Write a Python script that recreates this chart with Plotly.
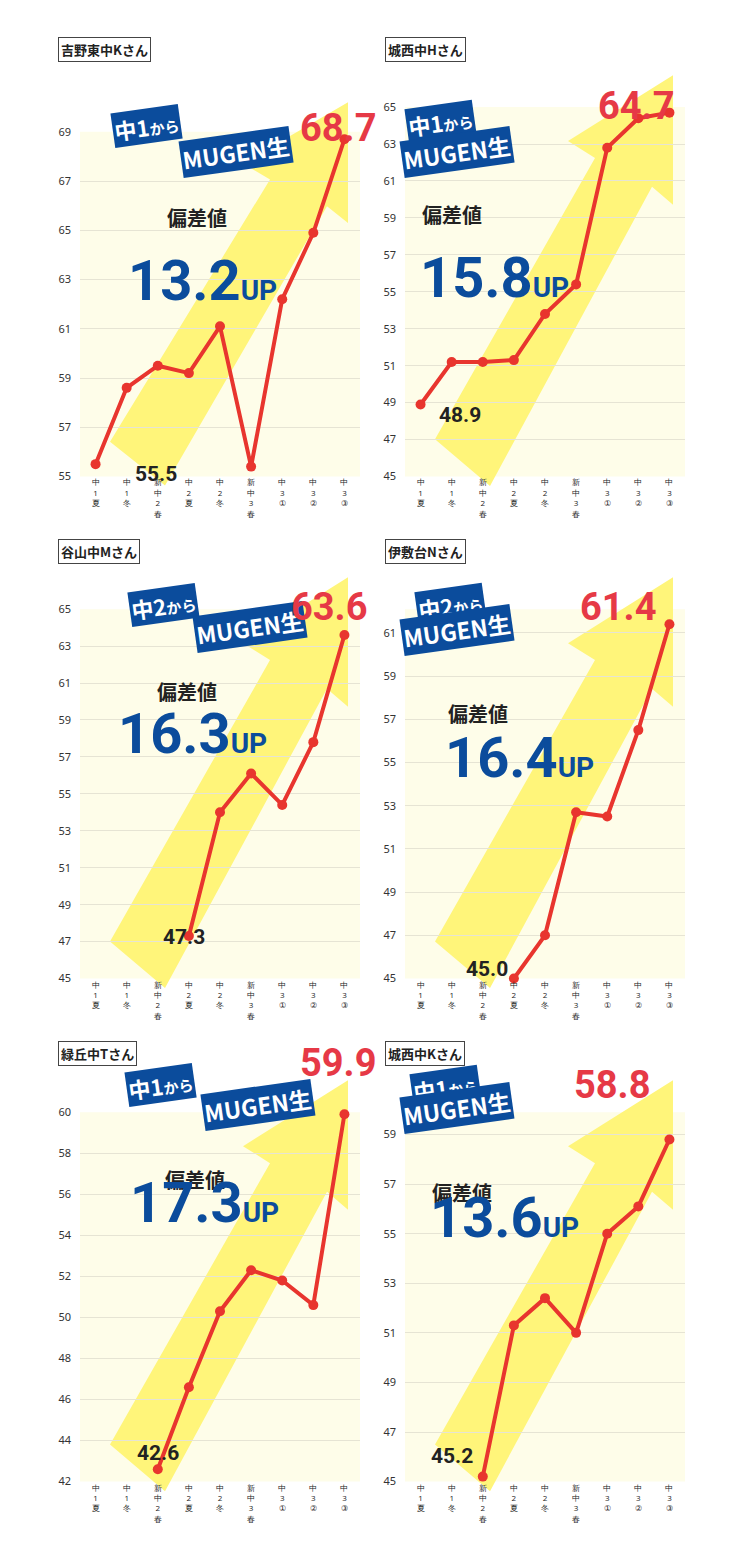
import plotly.graph_objects as go

W, H = 734, 1539
cats = ["中<br>1<br>夏", "中<br>1<br>冬", "新<br>中<br>2<br>春", "中<br>2<br>夏", "中<br>2<br>冬",
        "新<br>中<br>3<br>春", "中<br>3<br>①", "中<br>3<br>②", "中<br>3<br>③"]

names = ["吉野東中Kさん", "城西中Hさん", "谷山中Mさん", "伊敷台Nさん", "緑丘中Tさん", "城西中Kさん"]
starts = [0, 0, 3, 3, 2, 2]
vals1 = [55.5, 58.6, 59.5, 59.2, 61.1, 55.4, 62.2, 64.9, 68.7]
vals2 = [48.9, 51.2, 51.2, 51.3, 53.8, 55.4, 62.8, 64.4, 64.7]
vals3 = [47.3, 54.0, 56.1, 54.4, 57.8, 63.6]
vals4 = [45.0, 47.0, 52.7, 52.5, 56.5, 61.4]
vals5 = [42.6, 46.6, 50.3, 52.3, 51.8, 50.6, 59.9]
vals6 = [45.2, 51.3, 52.4, 51.0, 55.0, 56.1, 58.8]
series = [vals1, vals2, vals3, vals4, vals5, vals6]
ups = ["13.2", "15.8", "16.3", "16.4", "17.3", "13.6"]
badges = ["中1から", "中1から", "中2から", "中2から", "中1から", "中1から"]
yranges = [(55, 69), (45, 65), (45, 65), (45, 62.1), (42, 60), (45, 59.9)]
yticks = [list(range(55, 70, 2)), list(range(45, 66, 2)), list(range(45, 66, 2)),
          list(range(45, 62, 2)), list(range(42, 61, 2)), list(range(45, 60, 2))]

boxes = [(80, 360, 125, 473), (405, 685, 100, 473),
         (80, 360, 607, 980), (405, 685, 607, 980),
         (80, 360, 1115, 1488), (405, 685, 1115, 1488)]
badge1 = [(110, 96), (440, 92), (127, 603), (450, 603), (124, 1110), (445, 1112)]
badge2 = [(178, 118), (515, 118), (192, 625), (515, 628), (200, 1135), (515, 1138)]
hensa = [(165, 195), (452, 192), (155, 690), (478, 712), (163, 1200), (462, 1213)]
upxy = [(126, 240), (418, 237), (116, 733), (443, 757), (128, 1242), (428, 1257)]
redxy = [(338, 97), (676, 75), (329, 605), (658, 605), (338, 1090), (652, 1112)]
startxy = [(133, 456), (460, 397), (161, 938), (487, 970), (135, 1473), (452, 1476)]
titlexy = [(58, 42), (385, 42), (58, 549), (385, 549), (58, 1056), (385, 1056)]

OFF = 8
def px(x): return (x - OFF) / W
def py(y): return 1 - (y - OFF) / H

fig = go.Figure()
shapes, annos = [], []
arrow = [(30, -35), (85, 9), (247, -273), (268, -256), (268, -378), (163, -316), (190, -300)]
BLUE = "#0b4c9c"
RED = "#e8352e"
for i in range(6):
    l, r, t, b = boxes[i]
    ax = "" if i == 0 else str(i + 1)
    fig.update_layout(**{
        "xaxis" + ax: dict(domain=[px(l), px(r)], range=[-0.5, 8.5], tickvals=list(range(9)),
                           ticktext=cats, tickfont=dict(size=8, color="#222"), showgrid=False,
                           zeroline=False, anchor="y" + ax, fixedrange=True, ticks=""),
        "yaxis" + ax: dict(domain=[py(b), py(t)], range=list(yranges[i]), tickvals=yticks[i],
                           tickfont=dict(size=11, color="#333", family="Noto Sans"),
                           gridcolor="#e6e4d4", zeroline=False, anchor="x" + ax, ticks="",
                           ticklabelstandoff=8),
    })
    shapes.append(dict(type="rect", xref="paper", yref="paper", x0=px(l), x1=px(r), y0=py(b), y1=py(t),
                       fillcolor="#fefde9", line_width=0, layer="below"))
    sc = (b - t) / 348
    path = "M " + " L ".join(f"{px(l + ax_)},{py(b + ay * sc)}" for ax_, ay in arrow) + " Z"
    shapes.append(dict(type="path", xref="paper", yref="paper", path=path,
                       fillcolor="#fff57a", line_width=0, layer="below"))
    v = series[i]
    xs = list(range(starts[i], starts[i] + len(v)))
    fig.add_trace(go.Scatter(x=xs, y=v, mode="lines+markers", xaxis="x" + ax, yaxis="y" + ax,
                             line=dict(color=RED, width=4), marker=dict(color=RED, size=10),
                             showlegend=False, cliponaxis=False))
    tx, ty = titlexy[i]
    annos.append(dict(xref="paper", yref="paper", x=px(tx), y=py(ty), xanchor="left", yanchor="middle",
                      text="<b>" + names[i] + "</b>", showarrow=False,
                      font=dict(size=13, color="#222", family="Noto Sans CJK JP"),
                      bordercolor="#444", borderwidth=1, borderpad=2, bgcolor="white"))
    for (bx, by), txt, sz in [(badge1[i], "<b>" + badges[i].replace("から", "<span style='font-size:15px'>から</span>") + "</b>", 22),
                              (badge2[i], "<b>MUGEN生</b>", 23)]:
        annos.append(dict(xref="paper", yref="paper", x=px(bx), y=py(by), text=txt, showarrow=False,
                          font=dict(size=sz, color="white", family="Noto Sans CJK JP"),
                          bgcolor=BLUE, borderpad=1, textangle=-8))
    hx, hy = hensa[i]
    annos.append(dict(xref="paper", yref="paper", x=px(hx), y=py(hy), text="<b>偏差値</b>", showarrow=False,
                      font=dict(size=20, color="#222", family="Noto Sans CJK JP")))
    ux, uy = upxy[i]
    annos.append(dict(xref="paper", yref="paper", x=px(ux), y=py(uy), xanchor="left", showarrow=False,
                      text=f"<b>{ups[i]}<span style='font-size:28px'>UP</span></b>",
                      font=dict(size=56, color=BLUE, family="Roboto")))
    rx, ry = redxy[i]
    annos.append(dict(xref="paper", yref="paper", x=px(rx), y=py(ry), showarrow=False,
                      text=f"<b>{v[-1]:.1f}</b>", font=dict(size=38, color="#e63946", family="Roboto")))
    sx, sy = startxy[i]
    annos.append(dict(xref="paper", yref="paper", x=px(sx), y=py(sy), showarrow=False,
                      text=f"<b>{v[0]:.1f}</b>", font=dict(size=21, color="#222", family="Roboto")))

fig.update_layout(width=W, height=H, margin=dict(l=0, r=0, t=0, b=0), paper_bgcolor="white",
                  plot_bgcolor="rgba(0,0,0,0)", shapes=shapes, annotations=annos)
fig.write_html("out.html")
